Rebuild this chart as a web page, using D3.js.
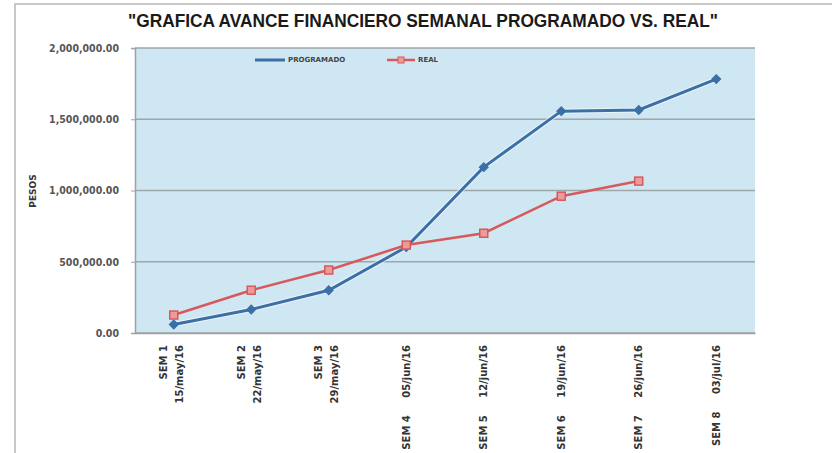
<!DOCTYPE html>
<html><head><meta charset="utf-8">
<script src="https://cdn.jsdelivr.net/npm/d3@7"></script>
<style>body{margin:0;background:#fff;}svg{display:block;}</style>
</head><body>
<svg id="c" width="832" height="453"></svg>
<script>
const semanas = ["SEM 1","SEM 2","SEM 3","SEM 4","SEM 5","SEM 6","SEM 7","SEM 8"];
const fechas = ["15/may/16","22/may/16","29/may/16","05/jun/16","12/jun/16","19/jun/16","26/jun/16","03/jul/16"];
const programado = [60000, 165000, 300000, 603000, 1164000, 1557000, 1565000, 1782000];
const real = [126000, 300000, 442000, 617000, 700000, 960000, 1066000, null];
const yTicks = [0, 500000, 1000000, 1500000, 2000000];
const title = "\"GRAFICA AVANCE FINANCIERO  SEMANAL PROGRAMADO VS. REAL\"";
const seriesNames = ["PROGRAMADO", "REAL"];

const svg = d3.select("#c");
const m = {l:135, r:755, t:48, b:333};
const x = d3.scaleBand().domain(semanas).range([m.l, m.r]);
const y = d3.scaleLinear().domain([0, 2000000]).range([m.b, m.t]);
const cx = s => x(s) + x.bandwidth()/2;

// outer frame
svg.append("path").attr("d","M15,453 V4 H832").attr("fill","none").attr("stroke","#c8c8c8").attr("stroke-width",2);

// plot background
svg.append("rect").attr("x",m.l).attr("y",m.t).attr("width",m.r-m.l).attr("height",m.b-m.t).attr("fill","#cfe7f3");

// grid
svg.append("g").selectAll("line").data(yTicks).join("line")
  .attr("x1",m.l).attr("x2",m.r).attr("y1",d=>y(d)).attr("y2",d=>y(d))
  .attr("stroke","#9ea6aa").attr("stroke-width",1.5);

const narrow = "'Liberation Sans Narrow','DejaVu Sans Condensed','Liberation Sans',sans-serif";
const lblFont = "'DejaVu Sans','Noto Sans',sans-serif";

// y axis
const fmt = d3.format(",.2f");
const ya = svg.append("g").attr("transform",`translate(${m.l},0)`)
  .call(d3.axisLeft(y).tickValues(yTicks).tickFormat(fmt).tickSize(4).tickPadding(12));
ya.select(".domain").attr("stroke","#a0a0a0").attr("stroke-width",1.5);
ya.selectAll(".tick line").attr("stroke","#a0a0a0");
ya.selectAll("text").attr("fill","#555").style("font-family",narrow).style("font-size","10.5px").style("font-weight","bold");

// x axis
const xa = svg.append("g").attr("transform",`translate(0,${m.b})`)
  .call(d3.axisBottom(x).tickSize(0).tickFormat(""));
xa.select(".domain").attr("stroke","#a0a0a0").attr("stroke-width",1.5);

semanas.forEach((s,i)=>{
  const g = svg.append("g").attr("transform",`translate(${cx(s)},${m.b+12}) rotate(-90)`);
  if(i<3){
    g.append("text").attr("x",0).attr("y",-10).attr("text-anchor","end").attr("dy","0.35em")
      .text(s).attr("fill","#333").style("font-family",lblFont).style("font-size","10px").style("font-weight","bold");
    g.append("text").attr("x",0).attr("y",6).attr("text-anchor","end").attr("dy","0.35em")
      .text(fechas[i]).attr("fill","#333").style("font-family",lblFont).style("font-size","10px").style("font-weight","bold");
  } else {
    g.append("text").attr("x",0).attr("y",0).attr("text-anchor","end").attr("dy","0.35em")
      .attr("xml:space","preserve").style("white-space","pre")
      .text(s+"     "+fechas[i]).attr("fill","#333").style("font-family",lblFont).style("font-size","10px").style("font-weight","bold");
  }
});

// Y label
svg.append("text").attr("transform","translate(36,191) rotate(-90)").attr("text-anchor","middle")
  .text("PESOS").attr("fill","#333").style("font-family",lblFont).style("font-size","9px").style("font-weight","bold");

// title
svg.append("text").attr("x",423).attr("y",27).attr("text-anchor","middle").text(title)
  .attr("textLength",590).attr("lengthAdjust","spacingAndGlyphs")
  .attr("fill","#1a1a1a").style("font-family","'Liberation Sans','Arial',sans-serif")
  .style("font-size","19px").style("font-weight","bold");

// lines
const blue = "#3b6fa5", red = "#d65a5c";
const line = d3.line().defined(d=>d.v!=null).x(d=>cx(d.s)).y(d=>y(d.v));
const pData = semanas.map((s,i)=>({s, v:programado[i]}));
const rData = semanas.map((s,i)=>({s, v:real[i]}));

svg.append("path").datum(pData).attr("d",line).attr("fill","none").attr("stroke","#fff").attr("stroke-width",5).attr("opacity",0.6);
svg.append("path").datum(pData).attr("d",line).attr("fill","none").attr("stroke",blue).attr("stroke-width",3);
svg.append("path").datum(rData).attr("d",line).attr("fill","none").attr("stroke",red).attr("stroke-width",2.5);

// markers
svg.append("g").selectAll("path").data(pData).join("path")
  .attr("d",d3.symbol(d3.symbolSquare, 40))
  .attr("transform",d=>`translate(${cx(d.s)},${y(d.v)}) rotate(45)`)
  .attr("fill",blue).attr("stroke",blue);
svg.append("g").selectAll("rect").data(rData.filter(d=>d.v!=null)).join("rect")
  .attr("x",d=>cx(d.s)-4).attr("y",d=>y(d.v)-4).attr("width",8).attr("height",8)
  .attr("fill","#ec9a9a").attr("stroke",red).attr("stroke-width",1.5);

// legend
const lg = svg.append("g").attr("transform","translate(255,60)");
lg.append("line").attr("x1",0).attr("x2",30).attr("stroke",blue).attr("stroke-width",3);
lg.append("text").attr("x",33).attr("dy","0.35em").text(seriesNames[0]).attr("fill","#444")
  .style("font-family",lblFont).style("font-size","7px").style("font-weight","bold");
lg.append("line").attr("x1",132).attr("x2",160).attr("stroke",red).attr("stroke-width",2.5);
lg.append("rect").attr("x",143).attr("y",-3).attr("width",6).attr("height",6).attr("fill","#ec9a9a").attr("stroke",red);
lg.append("text").attr("x",163).attr("dy","0.35em").text(seriesNames[1]).attr("fill","#444")
  .style("font-family",lblFont).style("font-size","7px").style("font-weight","bold");
</script>
</body></html>
